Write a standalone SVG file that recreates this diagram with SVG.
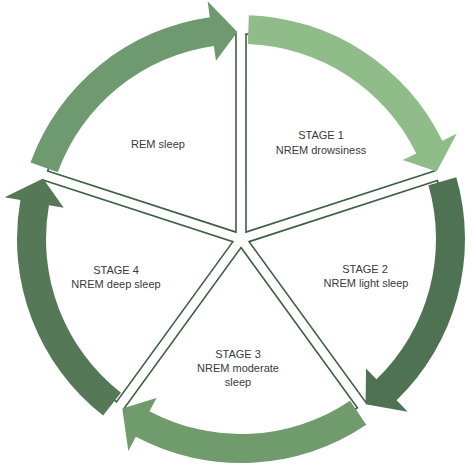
<svg xmlns="http://www.w3.org/2000/svg" width="474" height="473" viewBox="0 0 474 473">
<style>
.sec{fill:#ffffff;stroke:#3d5e43;stroke-width:1.6;stroke-linejoin:miter}
.lbl{font-family:"Liberation Sans",Arial,sans-serif;font-size:11px;fill:#3a3a3a;text-anchor:middle}
</style>
<rect width="474" height="473" fill="#ffffff"/>
<g id="sectors">
<g id="node-stage1"><path class="sec" d="M246,232.12 L246.01,34.06 A205,205 0 0 1 434.36,170.91 Z"/>
<text class="lbl" x="321" y="139">STAGE 1</text><text class="lbl" x="321" y="154">NREM drowsiness</text></g>
<g id="node-stage2"><path class="sec" d="M249.09,241.63 L437.46,180.43 A205,205 0 0 1 365.51,401.85 Z"/>
<text class="lbl" x="365" y="273">STAGE 2</text><text class="lbl" x="366" y="287">NREM light sleep</text></g>
<g id="node-stage3"><path class="sec" d="M241,247.51 L357.41,407.74 A205,205 0 0 1 124.59,407.74 Z"/>
<text class="lbl" x="238" y="358">STAGE 3</text><text class="lbl" x="238" y="372">NREM moderate</text><text class="lbl" x="238" y="386">sleep</text></g>
<g id="node-stage4"><path class="sec" d="M232.91,241.63 L116.49,401.85 A205,205 0 0 1 44.54,180.43 Z"/>
<text class="lbl" x="116" y="274">STAGE 4</text><text class="lbl" x="116" y="288">NREM deep sleep</text></g>
<g id="node-rem"><path class="sec" d="M236,232.12 L47.64,170.91 A205,205 0 0 1 235.99,34.06 Z"/>
<text class="lbl" x="158" y="148">REM sleep</text></g>
</g>
<g id="connectors">
<path id="arrow-stage1" fill="#8fbc88" d="M248.82,15.14 A224,224 0 0 1 442.33,140.81 L456.71,133.79 L436.72,171.61 L402.78,160.09 L416.26,153.52 A195,195 0 0 0 247.81,44.12 Z"/>
<path id="arrow-stage2" fill="#4f7352" d="M456.32,177.26 A224,224 0 0 1 396.60,400.13 L407.72,411.64 L365.58,404.32 L366.04,368.48 L376.46,379.27 A195,195 0 0 0 428.45,185.25 Z"/>
<path id="arrow-stage3" fill="#6f9b6d" d="M366.26,424.70 A224,224 0 0 1 135.84,436.78 L128.33,450.91 L122.27,408.56 L156.50,397.93 L149.45,411.17 A195,195 0 0 0 350.04,400.66 Z"/>
<path id="arrow-stage4" fill="#557857" d="M103.09,415.51 A224,224 0 0 1 20.40,200.10 L4.65,197.32 L43.04,178.48 L63.73,207.74 L48.96,205.14 A195,195 0 0 0 120.95,392.66 Z"/>
<path id="arrow-rem" fill="#6f9a6f" d="M30.51,162.39 A224,224 0 0 1 209.83,17.18 L207.60,1.34 L237.39,32.03 L215.95,60.75 L213.86,45.90 A195,195 0 0 0 57.76,172.31 Z"/>
</g>
</svg>
